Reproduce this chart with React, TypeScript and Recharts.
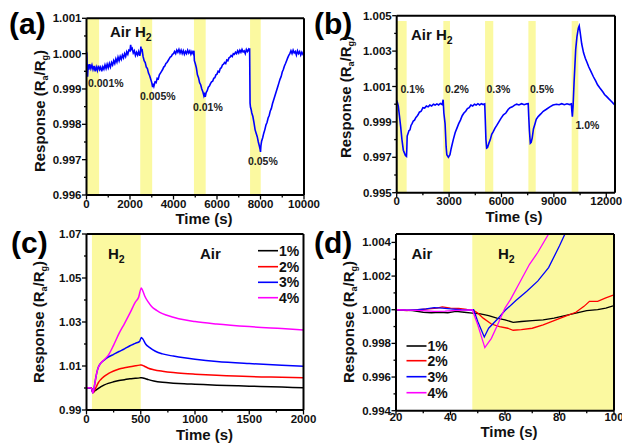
import React from "react";
import { LineChart, Line, XAxis, YAxis, ReferenceArea, ReferenceLine } from "recharts";

type Pt = [number, number];

const FONT = "'Liberation Sans', Arial, sans-serif";
const YELLOW = "#fbf9a0";

// (a) low concentrations, 10000 s run
const panelA: Pt[] = [
  [0, 1.00005], [15, 1.0], [30, 0.9995], [50, 0.99935], [80, 0.9997], [110, 0.99955], [150, 0.9997], [200, 0.99958],
  [250, 0.99968], [300, 0.99955], [350, 0.99965], [400, 0.9995], [450, 0.99962], [500, 0.99952], [550, 0.99966],
  [600, 0.99955], [650, 0.99962], [700, 0.9995], [750, 0.99963], [800, 0.99956], [850, 0.99968], [900, 0.99958],
  [950, 0.9997], [1000, 0.9996], [1050, 0.99972], [1100, 0.99962], [1150, 0.99975], [1200, 0.99968], [1250, 0.9998],
  [1300, 0.99972], [1350, 0.99985], [1400, 0.99976], [1450, 0.9999], [1500, 0.9998], [1550, 0.99992], [1600, 0.99984],
  [1650, 0.99996], [1700, 0.99988], [1750, 1.0], [1800, 0.99992], [1850, 1.00005], [1900, 0.99998], [1950, 1.0001],
  [2000, 1.00008], [2030, 1.00025], [2060, 1.00012], [2100, 1.00015], [2150, 1.00002], [2200, 1.00008], [2250, 0.99995],
  [2300, 1.00004], [2350, 0.99996], [2400, 1.00006], [2450, 0.99994], [2480, 1.00002], [2500, 1.0002], [2520, 1.00008],
  [2560, 1.0001], [2600, 0.99992], [2650, 0.9998], [2700, 0.99975], [2750, 0.99962], [2800, 0.99958], [2850, 0.99945],
  [2900, 0.99938], [2950, 0.99928], [3000, 0.99918], [3040, 0.99905], [3070, 0.99915], [3100, 0.99908], [3150, 0.9992],
  [3200, 0.99918], [3250, 0.9993], [3300, 0.99928], [3350, 0.9994], [3400, 0.99945], [3450, 0.9995], [3500, 0.99955],
  [3550, 0.99962], [3600, 0.99965], [3650, 0.99972], [3700, 0.99975], [3750, 0.9998], [3800, 0.99985], [3850, 0.9999],
  [3900, 0.99992], [3950, 0.99998], [4000, 1.0], [4050, 1.00006], [4100, 1.0], [4150, 1.0001], [4200, 1.00004],
  [4250, 1.00012], [4300, 1.00002], [4350, 1.0001], [4400, 1.0], [4450, 1.00008], [4500, 0.99998], [4550, 1.00006],
  [4600, 1.0], [4650, 1.0001], [4700, 1.00002], [4750, 1.00008], [4800, 0.99998], [4850, 1.00006], [4900, 1.0],
  [4940, 1.00008], [4960, 0.9998], [5000, 0.99972], [5050, 0.9996], [5100, 0.9994], [5150, 0.99932], [5200, 0.99918],
  [5250, 0.99912], [5300, 0.999], [5350, 0.99892], [5400, 0.9988], [5430, 0.99885], [5460, 0.99878], [5500, 0.9989],
  [5550, 0.99895], [5600, 0.99905], [5650, 0.99908], [5700, 0.99915], [5750, 0.9992], [5800, 0.99922], [5850, 0.9993],
  [5900, 0.99932], [5950, 0.9994], [6000, 0.99942], [6050, 0.9995], [6100, 0.99948], [6150, 0.99958], [6200, 0.9996],
  [6250, 0.99968], [6300, 0.9997], [6350, 0.99975], [6400, 0.99972], [6450, 0.99982], [6500, 0.9998], [6550, 0.99988],
  [6600, 0.9999], [6650, 0.99995], [6700, 0.99992], [6750, 1.0], [6800, 0.99998], [6850, 1.00004], [6900, 1.0],
  [6950, 1.00008], [7000, 1.00002], [7050, 1.0001], [7100, 1.00004], [7150, 1.00012], [7200, 1.00005], [7250, 1.00008],
  [7300, 1.0], [7350, 1.00012], [7400, 1.00006], [7450, 1.00012], [7480, 1.00008], [7500, 1.00015], [7520, 0.9986],
  [7540, 0.99848], [7570, 0.99842], [7600, 0.99832], [7650, 0.99822], [7700, 0.99805], [7750, 0.99785], [7800, 0.99775],
  [7850, 0.99765], [7900, 0.9975], [7950, 0.99738], [7980, 0.9973], [8000, 0.99722], [8020, 0.9974], [8050, 0.99752],
  [8100, 0.99762], [8150, 0.99775], [8200, 0.99785], [8250, 0.99798], [8300, 0.99805], [8350, 0.99818], [8400, 0.99825],
  [8450, 0.99838], [8500, 0.99845], [8550, 0.99858], [8600, 0.99868], [8650, 0.99878], [8700, 0.99888], [8750, 0.99898],
  [8800, 0.99908], [8850, 0.99918], [8900, 0.99928], [8950, 0.99935], [9000, 0.99948], [9050, 0.99955], [9100, 0.99965],
  [9150, 0.99972], [9200, 0.9998], [9250, 0.99988], [9300, 0.99995], [9350, 1.0], [9400, 1.00008], [9450, 1.0],
  [9500, 1.0001], [9550, 1.00002], [9600, 1.00006], [9650, 0.99996], [9700, 1.00008], [9750, 1.0], [9800, 1.00006],
  [9850, 0.99996], [9900, 1.00004], [9950, 0.99998], [10000, 1.00002],
];

// (b) higher concentrations
const panelB: Pt[] = [
  [0, 1.0002], [40, 1.0001], [90, 0.9999], [150, 0.9994], [230, 0.9987], [300, 0.998], [380, 0.9974], [440, 0.99725],
  [500, 0.9971], [560, 0.99705], [580, 0.9975], [600, 0.9982], [650, 0.99835], [700, 0.9985], [760, 0.99855], [820, 0.9988],
  [880, 0.9989], [950, 0.99905], [1020, 0.9991], [1100, 0.99925], [1150, 0.9993], [1220, 0.9994], [1300, 0.99955],
  [1400, 0.9996], [1500, 0.9998], [1600, 0.99978], [1700, 0.9999], [1800, 0.99985], [1900, 0.99995], [2000, 0.9999],
  [2100, 1.0], [2200, 0.99995], [2300, 1.00002], [2400, 0.99996], [2500, 1.00004], [2600, 0.99998], [2660, 1.00025],
  [2700, 0.9995], [2770, 0.9989], [2830, 0.9976], [2870, 0.99715], [2960, 0.997], [3050, 0.99715], [3120, 0.9975],
  [3240, 0.998], [3350, 0.9984], [3450, 0.99865], [3550, 0.9989], [3650, 0.9991], [3750, 0.99935], [3850, 0.9995],
  [3950, 0.9996], [4050, 0.99975], [4150, 0.9998], [4250, 0.99995], [4350, 0.9999], [4450, 1.0], [4550, 0.99995],
  [4650, 1.00003], [4750, 0.99996], [4850, 1.00003], [4950, 0.99998], [5040, 1.00002], [5070, 0.9992], [5110, 0.998],
  [5150, 0.99752], [5200, 0.99755], [5280, 0.9978], [5360, 0.998], [5440, 0.9983], [5530, 0.99845], [5630, 0.99865],
  [5730, 0.9988], [5850, 0.999], [5970, 0.9992], [6110, 0.9994], [6250, 0.9995], [6380, 0.9997], [6490, 0.9998],
  [6620, 0.99985], [6750, 0.99995], [6870, 1.0], [7000, 0.99996], [7150, 1.00003], [7300, 0.99997], [7450, 1.00002],
  [7530, 1.00003], [7560, 0.9993], [7600, 0.9985], [7650, 0.9978], [7700, 0.99785], [7760, 0.9981], [7830, 0.9986],
  [7920, 0.9989], [7990, 0.99915], [8100, 0.9993], [8250, 0.99945], [8390, 0.9996], [8550, 0.9997], [8770, 0.99985],
  [8950, 0.99995], [9150, 1.0], [9300, 0.99997], [9450, 1.00003], [9600, 0.99997], [9750, 1.00002], [9900, 0.99998],
  [10000, 1.00002], [10030, 0.9996], [10059, 0.9993], [10100, 0.9999], [10155, 1.0012], [10250, 1.0031], [10320, 1.0038],
  [10400, 1.0043], [10450, 1.00443], [10500, 1.0041], [10595, 1.0034], [10700, 1.0029], [10800, 1.0026], [10882, 1.0024],
  [11000, 1.0021], [11100, 1.0019], [11264, 1.00155], [11400, 1.0013], [11500, 1.0011], [11646, 1.0009], [11800, 1.0007],
  [11900, 1.00055], [12027, 1.00043], [12150, 1.0003], [12300, 1.00015], [12400, 1.00005], [12500, 0.99995],
];

// (c) 1-4 % H2, 2000 s
const c1: Pt[] = [
  [0, 1.0], [20, 1.0001], [40, 1.0], [50, 0.9995], [58, 0.998], [70, 0.9984], [90, 0.9991], [110, 0.9998], [130, 1.0005],
  [160, 1.0013], [200, 1.0021], [250, 1.0028], [300, 1.0034], [350, 1.0038], [400, 1.0042], [450, 1.0044], [490, 1.0046],
  [505, 1.0047], [530, 1.0044], [570, 1.0038], [620, 1.0032], [700, 1.0026], [800, 1.0022], [900, 1.0019], [1000, 1.0017],
  [1200, 1.0013], [1400, 1.001], [1600, 1.0007], [1800, 1.0004], [2000, 1.0001],
];
const c2: Pt[] = [
  [0, 1.0], [20, 1.0], [40, 1.0001], [50, 0.9995], [58, 0.9978], [70, 0.9985], [90, 1.0005], [110, 1.0025], [130, 1.0038],
  [160, 1.0052], [200, 1.0065], [250, 1.0077], [300, 1.0086], [350, 1.0092], [400, 1.0097], [450, 1.0101], [490, 1.0104],
  [505, 1.0105], [530, 1.01], [570, 1.009], [620, 1.0083], [700, 1.0076], [800, 1.007], [900, 1.0066], [1000, 1.0063],
  [1200, 1.0058], [1500, 1.0052], [1800, 1.0049], [2000, 1.0047],
];
const c3: Pt[] = [
  [0, 1.0], [20, 1.0001], [40, 0.9999], [50, 0.9994], [58, 0.9978], [68, 0.9995], [80, 1.003], [95, 1.007], [110, 1.0095],
  [130, 1.0112], [160, 1.0125], [200, 1.014], [250, 1.0153], [300, 1.0166], [350, 1.0178], [400, 1.0192], [450, 1.0203],
  [490, 1.0212], [505, 1.023], [520, 1.0222], [545, 1.02], [580, 1.0185], [635, 1.0167], [700, 1.0155], [800, 1.0145],
  [900, 1.0137], [1000, 1.0131], [1200, 1.0121], [1500, 1.0111], [1800, 1.0103], [2000, 1.0099],
];
const c4: Pt[] = [
  [0, 1.0002], [20, 1.0001], [40, 1.0], [50, 0.9994], [58, 0.9977], [68, 0.9995], [80, 1.003], [95, 1.007], [110, 1.0095],
  [130, 1.0112], [160, 1.0127], [200, 1.0148], [250, 1.0195], [300, 1.0248], [350, 1.0293], [400, 1.034], [450, 1.039],
  [480, 1.0412], [505, 1.0455], [520, 1.044], [540, 1.0415], [570, 1.039], [600, 1.037], [650, 1.0352], [700, 1.0338],
  [800, 1.0322], [900, 1.031], [1000, 1.0302], [1200, 1.0291], [1500, 1.0279], [1800, 1.027], [2000, 1.0264],
];

// (d) first seconds after H2 in
const d1: Pt[] = [
  [20, 1.0], [23, 0.99998], [26, 0.99995], [30, 0.99985], [33, 0.99982], [36, 0.99985], [39, 0.99982], [42, 0.9999],
  [45, 0.99985], [48, 0.9998], [51, 0.99975], [54, 0.99965], [57, 0.9995], [60, 0.9994], [63, 0.99925], [66, 0.9993],
  [70, 0.99935], [74, 0.9994], [78, 0.9995], [82, 0.99965], [86, 0.9998], [90, 0.99995], [94, 1.0], [97, 1.0001], [100, 1.00025],
];
const d2: Pt[] = [
  [20, 1.0], [24, 0.99995], [28, 1.0], [32, 1.00005], [35, 1.0001], [37, 1.00017], [40, 1.0001], [43, 1.00008],
  [46, 1.00002], [48, 1.0], [50, 0.9998], [52, 0.9995], [55, 0.99915], [58, 0.999], [61, 0.9989], [63, 0.99878],
  [66, 0.99882], [70, 0.9989], [74, 0.9991], [78, 0.99935], [82, 0.9996], [86, 0.99985], [89, 1.0002], [91, 1.0005],
  [94, 1.0005], [97, 1.0007], [100, 1.00088],
];
const d3: Pt[] = [
  [20, 1.0], [24, 0.99998], [28, 1.0], [31, 1.00005], [34, 1.00012], [37, 1.0001], [40, 1.00005], [44, 1.0],
  [47, 0.99998], [48.5, 1.0], [50, 0.9993], [52.4, 0.99838], [54, 0.9989], [57, 0.9994], [60, 0.99995], [64, 1.00055],
  [68, 1.0011], [72, 1.0017], [76, 1.0025], [80, 1.0038], [82, 1.0045], [85, 1.0052],
];
const d4: Pt[] = [
  [20, 1.0], [25, 0.99998], [30, 0.99995], [34, 0.9999], [38, 0.99992], [42, 0.99996], [45, 0.99998], [48, 1.0],
  [50, 0.9991], [52.6, 0.99775], [55, 0.9983], [57, 0.999], [60, 1.0001], [62, 1.0006], [65, 1.0015], [69, 1.0027],
  [72, 1.0034], [76, 1.0045], [78, 1.0052],
];

const bandsA = [[0, 580], [2470, 3020], [4940, 5480], [7520, 8010]];
const bandsB = [[0, 570], [2670, 3050], [5060, 5530], [7540, 7960], [10020, 10400]];
const bandsC = [[50, 500]];
const bandsD = [[48, 100]];

const legendLabels = ["1%", "2%", "3%", "4%"];
const legendColors = ["#000000", "#ff0000", "#0000ff", "#ff00ff"];

interface Series { pts: Pt[]; color: string; width: number; curve?: boolean }
interface PanelProps {
  box: { l: number; t: number; r: number; b: number };
  xDomain: [number, number];
  yDomain: [number, number];
  xMajor: number[];
  xMinor: number[];
  yMajor: number[];
  yMinor: number[];
  yDigits: number;
  xLabelDy: number;
  bands: number[][];
  bandTop?: number;
  series: Series[];
}

function Panel(p: PanelProps) {
  const xTicks = [...p.xMajor, ...p.xMinor].sort((a, b) => a - b);
  const yTicks = [...p.yMajor, ...p.yMinor].sort((a, b) => a - b);
  const frame = { stroke: "#000", strokeWidth: 2 };

  const xTick = (t: any) => {
    const major = p.xMajor.includes(t.payload.value);
    return (
      <g>
        <line x1={t.x} x2={t.x} y1={t.y} y2={t.y + (major ? 4.5 : 2.5)} stroke="#000" strokeWidth={1.3} />
        {major && (
          <text x={t.x} y={t.y + p.xLabelDy} textAnchor="middle" fontSize={11.5} fontWeight="bold" fontFamily={FONT} fill="#111">
            {t.payload.value}
          </text>
        )}
      </g>
    );
  };
  const yTick = (t: any) => {
    const major = p.yMajor.includes(t.payload.value);
    return (
      <g>
        <line x1={t.x - (major ? 4.5 : 2.5)} x2={t.x} y1={t.y} y2={t.y} stroke="#000" strokeWidth={1.3} />
        {major && (
          <text x={t.x - 5} y={t.y} dy="0.35em" textAnchor="end" fontSize={11.5} fontWeight="bold" fontFamily={FONT} fill="#111">
            {t.payload.value.toFixed(p.yDigits)}
          </text>
        )}
      </g>
    );
  };

  return (
    <div style={{ position: "absolute", left: 0, top: 0 }}>
      <LineChart width={622} height={443} margin={{ top: p.box.t, right: 622 - p.box.r, bottom: 0, left: 0 }}>
        <XAxis
          dataKey="x"
          type="number"
          domain={p.xDomain}
          ticks={xTicks}
          interval={0}
          allowDataOverflow
          height={443 - p.box.b}
          tickLine={false}
          tickSize={0}
          tickMargin={0}
          axisLine={frame}
          tick={xTick}
        />
        <YAxis
          type="number"
          domain={p.yDomain}
          ticks={yTicks}
          interval={0}
          allowDataOverflow
          width={p.box.l}
          tickLine={false}
          tickSize={0}
          tickMargin={0}
          axisLine={frame}
          tick={yTick}
        />
        {p.bands.map(([a, b], i) => (
          <ReferenceArea
            key={i}
            x1={a}
            x2={b}
            y1={p.yDomain[0]}
            y2={p.bandTop ?? p.yDomain[1]}
            fill={YELLOW}
            fillOpacity={1}
            stroke="none"
            ifOverflow="hidden"
          />
        ))}
        {p.series.map((s, i) => (
          <Line
            key={i}
            data={s.pts.map(([x, y]) => ({ x, y }))}
            dataKey="y"
            type={s.curve ? "monotone" : "linear"}
            stroke={s.color}
            strokeWidth={s.width}
            dot={false}
            activeDot={false}
            isAnimationActive={false}
          />
        ))}
        <ReferenceLine y={p.yDomain[1]} stroke="#000" strokeWidth={2} />
        <ReferenceLine x={p.xDomain[1]} stroke="#000" strokeWidth={2} />
      </LineChart>
    </div>
  );
}

function RespTitle({ x, y }: { x: number; y: number }) {
  return (
    <text x={x} y={y} transform={`rotate(-90 ${x} ${y})`} textAnchor="middle" fontSize={15} fontWeight="bold" fontFamily={FONT} fill="#111">
      Response (R<tspan fontSize={9} dy={3}>a</tspan>
      <tspan dy={-3}>/R</tspan>
      <tspan fontSize={9} dy={3}>g</tspan>
      <tspan dy={-3}>)</tspan>
    </text>
  );
}

function TimeTitle({ x, y }: { x: number; y: number }) {
  return (
    <text x={x} y={y} textAnchor="middle" fontSize={15} fontWeight="bold" fontFamily={FONT} fill="#111">
      Time (s)
    </text>
  );
}

function H2({ x, y, size = 15, prefix = "" }: { x: number; y: number; size?: number; prefix?: string }) {
  return (
    <text x={x} y={y} fontSize={size} fontWeight="bold" fontFamily={FONT} fill="#111">
      {prefix}H<tspan fontSize={size * 0.7} dy={4}>2</tspan>
    </text>
  );
}

function Note({ x, y, t }: { x: number; y: number; t: string }) {
  return (
    <text x={x} y={y} fontSize={10.5} fontWeight="bold" fontFamily={FONT} fill="#222">
      {t}
    </text>
  );
}

function Legend({ x, ys }: { x: number; ys: number[] }) {
  return (
    <g>
      {legendLabels.map((l, i) => (
        <g key={l}>
          <line x1={x} x2={x + 20} y1={ys[i]} y2={ys[i]} stroke={legendColors[i]} strokeWidth={1.6} />
          <text x={x + 21} y={ys[i] + 5} fontSize={14} fontWeight="bold" fontFamily={FONT} fill="#111">
            {l}
          </text>
        </g>
      ))}
    </g>
  );
}

function PanelTag({ x, y, t }: { x: number; y: number; t: string }) {
  return (
    <text x={x} y={y} fontSize={30} fontWeight="bold" fontFamily={FONT} fill="#000">
      {t}
    </text>
  );
}

export default function App() {
  return (
    <div style={{ position: "absolute", left: 0, top: 0, width: 622, height: 443, background: "#fff", overflow: "hidden" }}>
      <Panel
        box={{ l: 86.5, t: 18.3, r: 304, b: 195 }}
        xDomain={[0, 10000]}
        yDomain={[0.996, 1.001]}
        xMajor={[0, 2000, 4000, 6000, 8000, 10000]}
        xMinor={[1000, 3000, 5000, 7000, 9000]}
        yMajor={[0.996, 0.997, 0.998, 0.999, 1.0, 1.001]}
        yMinor={[0.9965, 0.9975, 0.9985, 0.9995, 1.0005]}
        yDigits={3}
        xLabelDy={12.5}
        bands={bandsA}
        series={[{ pts: panelA, color: "#0000ff", width: 1.6 }]}
      />
      <Panel
        box={{ l: 396.7, t: 15.7, r: 615, b: 192.7 }}
        xDomain={[0, 12500]}
        yDomain={[0.995, 1.005]}
        xMajor={[0, 3000, 6000, 9000, 12000]}
        xMinor={[1500, 4500, 7500, 10500]}
        yMajor={[0.995, 0.997, 0.999, 1.001, 1.003, 1.005]}
        yMinor={[0.996, 0.998, 1.0, 1.002, 1.004]}
        yDigits={3}
        xLabelDy={12.5}
        bands={bandsB}
        bandTop={1.0047}
        series={[{ pts: panelB, color: "#0000ff", width: 1.6 }]}
      />
      <Panel
        box={{ l: 86.5, t: 234, r: 303.5, b: 410 }}
        xDomain={[0, 2000]}
        yDomain={[0.99, 1.07]}
        xMajor={[0, 500, 1000, 1500, 2000]}
        xMinor={[250, 750, 1250, 1750]}
        yMajor={[0.99, 1.01, 1.03, 1.05, 1.07]}
        yMinor={[1.0, 1.02, 1.04, 1.06]}
        yDigits={2}
        xLabelDy={13}
        bands={bandsC}
        series={[
          { pts: c1, color: legendColors[0], width: 1.5, curve: true },
          { pts: c2, color: legendColors[1], width: 1.5, curve: true },
          { pts: c3, color: legendColors[2], width: 1.5, curve: true },
          { pts: c4, color: legendColors[3], width: 1.5, curve: true },
        ]}
      />
      <Panel
        box={{ l: 396, t: 234, r: 614, b: 410.7 }}
        xDomain={[20, 100]}
        yDomain={[0.994, 1.0045]}
        xMajor={[20, 40, 60, 80, 100]}
        xMinor={[30, 50, 70, 90]}
        yMajor={[0.994, 0.996, 0.998, 1.0, 1.002, 1.004]}
        yMinor={[0.995, 0.997, 0.999, 1.001, 1.003]}
        yDigits={3}
        xLabelDy={10.5}
        bands={bandsD}
        series={[
          { pts: d1, color: legendColors[0], width: 1.3 },
          { pts: d2, color: legendColors[1], width: 1.3 },
          { pts: d3, color: legendColors[2], width: 1.3 },
          { pts: d4, color: legendColors[3], width: 1.3 },
        ]}
      />
      <svg width={622} height={443} style={{ position: "absolute", left: 0, top: 0 }}>
        <PanelTag x={9} y={34} t="(a)" />
        <PanelTag x={314} y={34} t="(b)" />
        <PanelTag x={11} y={253} t="(c)" />
        <PanelTag x={314} y={253} t="(d)" />

        <RespTitle x={44.5} y={111} />
        <RespTitle x={350.5} y={97} />
        <RespTitle x={43.5} y={322} />
        <RespTitle x={354} y={322} />

        <TimeTitle x={204} y={224} />
        <TimeTitle x={514} y={222} />
        <TimeTitle x={204.5} y={440} />
        <TimeTitle x={509} y={436.5} />

        <H2 x={110} y={36.5} prefix="Air " />
        <Note x={88} y={87} t="0.001%" />
        <Note x={140} y={100} t="0.005%" />
        <Note x={193} y={110.5} t="0.01%" />
        <Note x={248} y={165} t="0.05%" />

        <H2 x={411} y={39.5} prefix="Air " />
        <Note x={400.5} y={93} t="0.1%" />
        <Note x={445} y={93} t="0.2%" />
        <Note x={486.5} y={93} t="0.3%" />
        <Note x={530} y={93} t="0.5%" />
        <Note x={575.5} y={129} t="1.0%" />

        <H2 x={108} y={259} />
        <text x={200} y={259} fontSize={15} fontWeight="bold" fontFamily={FONT} fill="#111">Air</text>
        <Legend x={258} ys={[250.7, 266.7, 282.3, 297.7]} />

        <text x={411.5} y={259} fontSize={15} fontWeight="bold" fontFamily={FONT} fill="#111">Air</text>
        <H2 x={498} y={259} />
        <Legend x={406.5} ys={[346, 360.7, 376.7, 392.7]} />
      </svg>
    </div>
  );
}
